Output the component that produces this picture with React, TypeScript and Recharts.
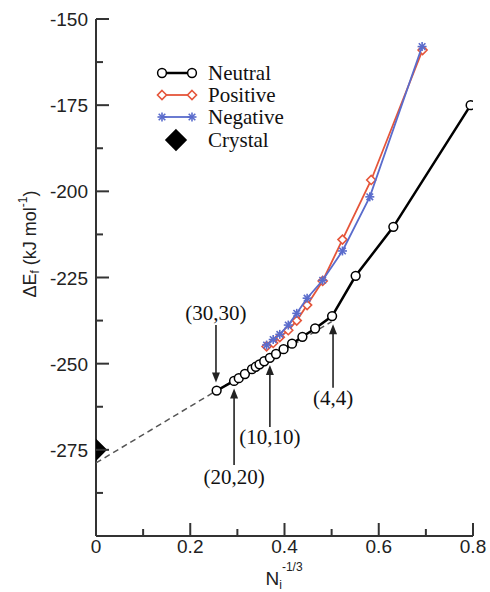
import { ScatterChart, Scatter, XAxis, YAxis, Legend, ReferenceLine, ReferenceDot } from "recharts";

const xTicks = [0, 0.1, 0.2, 0.3, 0.4, 0.5, 0.6, 0.7, 0.8];
const xTickLabels = ["0", "", "0.2", "", "0.4", "", "0.6", "", "0.8"];
const yTicks = [-300, -287.5, -275, -262.5, -250, -237.5, -225, -212.5, -200, -187.5, -175, -162.5, -150];
const yTickLabels = ["", "", "-275", "", "-250", "", "-225", "", "-200", "", "-175", "", "-150"];

const neutral = [
  { x: 0.256, y: -257.8 },
  { x: 0.293, y: -255.0 },
  { x: 0.303, y: -254.2 },
  { x: 0.316, y: -253.0 },
  { x: 0.331, y: -251.6 },
  { x: 0.339, y: -250.9 },
  { x: 0.347, y: -250.2 },
  { x: 0.357, y: -249.3 },
  { x: 0.369, y: -248.3 },
  { x: 0.382, y: -247.2 },
  { x: 0.398, y: -245.8 },
  { x: 0.416, y: -244.2 },
  { x: 0.438, y: -242.2 },
  { x: 0.465, y: -239.8 },
  { x: 0.501, y: -236.2 },
  { x: 0.551, y: -224.5 },
  { x: 0.631, y: -210.3 },
  { x: 0.795, y: -175.0 },
];

const positive = [
  { x: 0.362, y: -245.0 },
  { x: 0.376, y: -244.0 },
  { x: 0.39, y: -242.3 },
  { x: 0.408, y: -240.3 },
  { x: 0.426, y: -237.5 },
  { x: 0.448, y: -233.0 },
  { x: 0.481, y: -226.0 },
  { x: 0.523, y: -214.0 },
  { x: 0.584, y: -196.7 },
  { x: 0.693, y: -159.0 },
];

const negative = [
  { x: 0.362, y: -244.6 },
  { x: 0.376, y: -243.0 },
  { x: 0.39, y: -241.5 },
  { x: 0.408, y: -238.8 },
  { x: 0.426, y: -235.4 },
  { x: 0.448, y: -231.0 },
  { x: 0.481, y: -225.8 },
  { x: 0.523, y: -217.3 },
  { x: 0.581, y: -201.6 },
  { x: 0.692, y: -158.0 },
];

const crystal = [{ x: 0, y: -275 }];

// extrapolation of the neutral points down to N -> infinity
const fitLine = [
  { x: 0, y: -278.8 },
  { x: 0.5, y: -237.8 },
];

const annotations = [
  { label: "(30,30)", x: 0.2546, textY: -235.3, fromY: -238.8, toY: -255.5 },
  { label: "(20,20)", x: 0.293, textY: -282.9, fromY: -279.4, toY: -257.2 },
  { label: "(10,10)", x: 0.369, textY: -271.3, fromY: -268.4, toY: -250.4 },
  { label: "(4,4)", x: 0.503, textY: -260.0, fromY: -257.0, toY: -238.6 },
];

const legendNames = ["Neutral", "Positive", "Negative", "Crystal"];

const RED = "#e5553a";
const BLUE = "#5a6ccc";
const AXIS = "#333";
const SANS = "'Liberation Sans', Arial, sans-serif";
const SERIF = "'Liberation Serif', 'Times New Roman', serif";

const makeTick = (side: string, labels: string[]) => (props: any) => {
  const { x, y, index } = props;
  const len = index % 2 === 0 ? 13 : 7;
  const label = labels[index];
  if (side === "bottom")
    return (
      <g>
        <line x1={x} y1={y} x2={x} y2={y - len} stroke={AXIS} strokeWidth={2} />
        {label && (
          <text x={x} y={y + 17} textAnchor="middle" fontFamily={SANS} fontSize={19} fill="#222">
            {label}
          </text>
        )}
      </g>
    );
  if (side === "top") return <line x1={x} y1={y} x2={x} y2={y + len} stroke={AXIS} strokeWidth={2} />;
  if (side === "left")
    return (
      <g>
        <line x1={x} y1={y} x2={x + len} y2={y} stroke={AXIS} strokeWidth={2} />
        {label && (
          <text x={x - 8} y={y + 7} textAnchor="end" fontFamily={SANS} fontSize={19} fill="#222">
            {label}
          </text>
        )}
      </g>
    );
  return <line x1={x} y1={y} x2={x - len} y2={y} stroke={AXIS} strokeWidth={2} />;
};

const circle = (cx: number, cy: number) => (
  <circle cx={cx} cy={cy} r={4.4} fill="#fff" stroke="#000" strokeWidth={1.5} />
);
const diamond = (cx: number, cy: number, s: number, fill: string, stroke: string) => (
  <polygon
    points={`${cx},${cy - s} ${cx + s},${cy} ${cx},${cy + s} ${cx - s},${cy}`}
    fill={fill}
    stroke={stroke}
    strokeWidth={1.6}
  />
);
const star = (cx: number, cy: number) => (
  <g stroke={BLUE} strokeWidth={1.6}>
    <line x1={cx - 4.5} y1={cy} x2={cx + 4.5} y2={cy} />
    <line x1={cx} y1={cy - 4.5} x2={cx} y2={cy + 4.5} />
    <line x1={cx - 3.3} y1={cy - 3.3} x2={cx + 3.3} y2={cy + 3.3} />
    <line x1={cx - 3.3} y1={cy + 3.3} x2={cx + 3.3} y2={cy - 3.3} />
  </g>
);

const Arrow = (p: any) => {
  const { x1, y1, x2, y2 } = p;
  const dir = y2 < y1 ? 1 : -1;
  return (
    <g>
      <line x1={x1} y1={y1} x2={x2} y2={y2 + dir * 8} stroke="#222" strokeWidth={1.6} />
      <polygon points={`${x2},${y2} ${x2 - 4},${y2 + dir * 10} ${x2 + 4},${y2 + dir * 10}`} fill="#222" />
    </g>
  );
};

const renderLegend = () => (
  <svg width={150} height={95} style={{ display: "block" }}>
    {legendNames.map((name, i) => {
      const cy = [13, 35, 57, 80][i];
      let sym = null;
      if (i === 0)
        sym = (
          <g>
            <line x1={12} y1={cy} x2={42} y2={cy} stroke="#000" strokeWidth={2.5} />
            {circle(12, cy)}
            {circle(42, cy)}
          </g>
        );
      if (i === 1)
        sym = (
          <g>
            <line x1={12} y1={cy} x2={42} y2={cy} stroke={RED} strokeWidth={1.8} />
            {diamond(12, cy, 4.5, "#fff", RED)}
            {diamond(42, cy, 4.5, "#fff", RED)}
          </g>
        );
      if (i === 2)
        sym = (
          <g>
            <line x1={12} y1={cy} x2={42} y2={cy} stroke={BLUE} strokeWidth={1.8} />
            {star(12, cy)}
            {star(42, cy)}
          </g>
        );
      if (i === 3) sym = diamond(26, cy, 10, "#000", "#000");
      return (
        <g key={name}>
          {sym}
          <text x={58} y={cy + 7} fontFamily={SERIF} fontSize={21} fill="#111">
            {name}
          </text>
        </g>
      );
    })}
  </svg>
);

const XLabel = ({ viewBox }: any) => {
  const cx = viewBox.x + viewBox.width / 2;
  return (
    <text x={cx - 19} y={viewBox.y + 49} fontFamily={SANS} fontSize={19} fill="#222">
      N
      <tspan dy={4} fontSize={12}>
        i
      </tspan>
      <tspan dy={-18} fontSize={12}>
        -1/3
      </tspan>
    </text>
  );
};

const YLabel = ({ viewBox }: any) => {
  const cx = 30;
  const cy = viewBox.y + 225;
  return (
    <text x={cx} y={cy} textAnchor="middle" transform={`rotate(-90 ${cx} ${cy})`} fontFamily={SANS} fontSize={18} fill="#222" dominantBaseline="central">
      ΔE
      <tspan dy={5} fontSize={12}>
        f
      </tspan>
      <tspan dy={-5}> (kJ mol</tspan>
      <tspan dy={-7} fontSize={12}>
        -1
      </tspan>
      <tspan dy={7}>)</tspan>
    </text>
  );
};

export default function App() {
  return (
    <div style={{ position: "absolute", left: 0, top: 0, background: "#fff" }}>
      <ScatterChart width={490} height={592} margin={{ top: 19, right: 17, left: 0, bottom: 0 }}>
        <XAxis
          type="number"
          dataKey="x"
          domain={[0, 0.8]}
          ticks={xTicks}
          interval={0}
          height={56}
          tickSize={0}
          tickMargin={0}
          tickLine={false}
          tick={makeTick("bottom", xTickLabels)}
          axisLine={{ stroke: AXIS, strokeWidth: 2 }}
          label={<XLabel />}
          allowDataOverflow
        />
        <XAxis
          xAxisId="top"
          orientation="top"
          type="number"
          dataKey="x"
          domain={[0, 0.8]}
          ticks={xTicks}
          interval={0}
          height={0}
          tickSize={0}
          tickMargin={0}
          tickLine={false}
          tick={makeTick("top", xTickLabels)}
          axisLine={{ stroke: AXIS, strokeWidth: 2 }}
          allowDataOverflow
        />
        <YAxis
          type="number"
          dataKey="y"
          domain={[-300, -150]}
          ticks={yTicks}
          interval={0}
          width={96}
          tickSize={0}
          tickMargin={0}
          tickLine={false}
          tick={makeTick("left", yTickLabels)}
          axisLine={{ stroke: AXIS, strokeWidth: 2 }}
          label={<YLabel />}
          allowDataOverflow
        />
        <YAxis
          yAxisId="right"
          orientation="right"
          type="number"
          dataKey="y"
          domain={[-300, -150]}
          ticks={yTicks}
          interval={0}
          width={0}
          tickSize={0}
          tickMargin={0}
          tickLine={false}
          tick={makeTick("right", yTickLabels)}
          axisLine={{ stroke: AXIS, strokeWidth: 2 }}
          allowDataOverflow
        />
        <Legend
          layout="vertical"
          align="center"
          verticalAlign="middle"
          content={renderLegend}
          wrapperStyle={{ left: 150, top: 60, width: 150, height: 95 }}
        />
        <Scatter
          name="fit"
          data={fitLine}
          line={{ stroke: "#555", strokeWidth: 1.5, strokeDasharray: "6 4" }}
          shape={() => <g />}
          isAnimationActive={false}
          legendType="none"
        />
        <Scatter
          name="Neutral"
          data={neutral}
          line={{ stroke: "#000", strokeWidth: 2.5 }}
          shape={(p: any) => circle(p.cx, p.cy)}
          isAnimationActive={false}
        />
        <Scatter
          name="Positive"
          data={positive}
          line={{ stroke: RED, strokeWidth: 1.8 }}
          shape={(p: any) => diamond(p.cx, p.cy, 4.5, "#fff", RED)}
          isAnimationActive={false}
        />
        <Scatter
          name="Negative"
          data={negative}
          line={{ stroke: BLUE, strokeWidth: 1.8 }}
          shape={(p: any) => star(p.cx, p.cy)}
          isAnimationActive={false}
        />
        <Scatter
          name="Crystal"
          data={crystal}
          shape={(p: any) => diamond(p.cx, p.cy, 10, "#000", "#000")}
          isAnimationActive={false}
        />
        {annotations.map((a) => (
          <ReferenceLine
            key={a.label + "-arrow"}
            segment={[
              { x: a.x, y: a.fromY },
              { x: a.x, y: a.toY },
            ]}
            shape={Arrow}
            ifOverflow="visible"
          />
        ))}
        {annotations.map((a) => (
          <ReferenceDot
            key={a.label + "-text"}
            x={a.x}
            y={a.textY}
            r={0}
            ifOverflow="visible"
            shape={(p: any) => (
              <text x={p.cx} y={p.cy + 7} textAnchor="middle" fontFamily={SERIF} fontSize={21} fill="#111">
                {a.label}
              </text>
            )}
          />
        ))}
      </ScatterChart>
    </div>
  );
}
